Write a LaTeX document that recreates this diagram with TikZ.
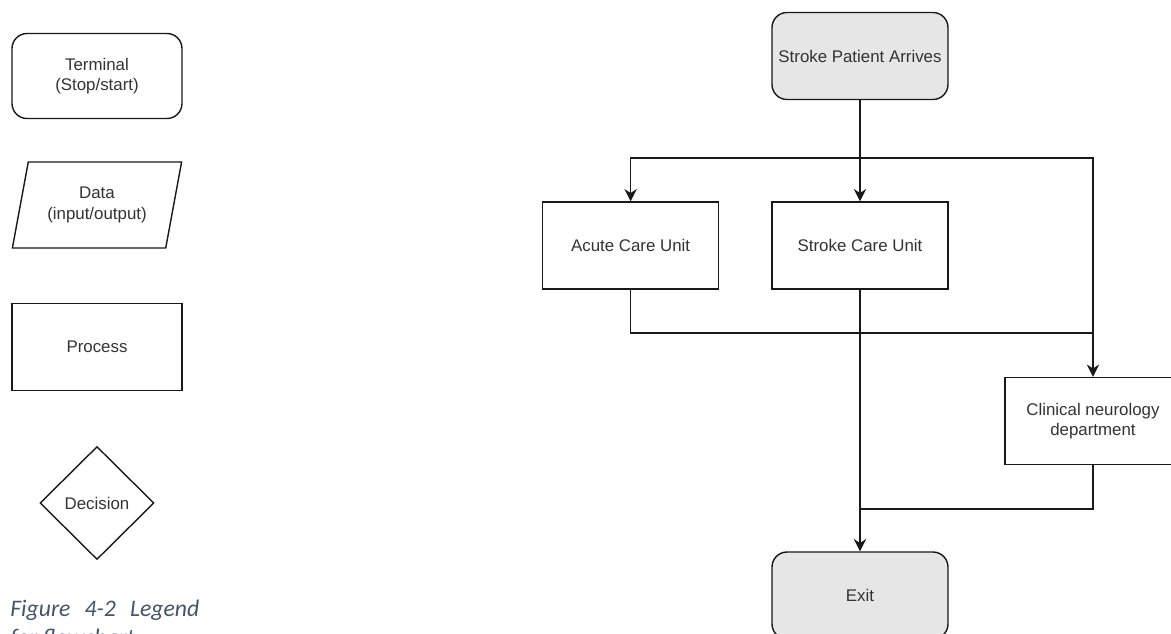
\documentclass[tikz,border=0pt]{standalone}
\usepackage{fontspec}
\setmainfont{Liberation Sans}
\newfontfamily\capfont{Carlito}
\usetikzlibrary{positioning, shapes.geometric, arrows.meta}
\definecolor{termgray}{HTML}{E6E6E6}
\definecolor{capblue}{HTML}{44546A}

\begin{document}
\begin{tikzpicture}[
        x=0.02cm, y=-0.02cm,
        font=\fontsize{9.6}{11.5}\selectfont, text=black!80,
        box/.style={rectangle, draw=black!90, line width=0.8pt,
                    minimum width=3.52cm, minimum height=1.74cm,
                    align=center, inner sep=2pt},
        term/.style={box, rounded corners=0.3cm},
        tbox/.style={term, fill=termgray},
        data/.style={trapezium, trapezium left angle=72, trapezium right angle=108,
                     trapezium stretches=true, draw=black!90, line width=0.8pt,
                     minimum width=3.4cm, minimum height=1.72cm, align=center, inner sep=0pt},
        decision/.style={diamond, draw=black!90, line width=0.8pt,
                         minimum width=2.28cm, minimum height=2.26cm, inner sep=0pt},
        link/.style={draw=black!90, line width=0.8pt},
        arrow/.style={link, -{Stealth[length=7pt, width=7pt]}},
    ]
    \useasboundingbox (0,0) rectangle (1171,633);

    % Legend
    \node[term, minimum width=3.4cm, minimum height=1.7cm] (terminal) at (97,76) {Terminal\\(Stop/start)};
    \node[data] (data) at (97,205) {Data\\(input/output)};
    \node[box, minimum width=3.4cm] (process) at (97,347) {Process};
    \node[decision] (decision) at (97,503) {Decision};
    \node[font=\capfont\itshape\fontsize{13.5}{16}\selectfont, text=capblue,
          anchor=base west, align=left, inner sep=0pt] (caption) at (10,645)
          {\makebox[3.78cm][s]{Figure 4-2 Legend}\\for flowchart};

    % Flowchart
    \node[tbox] (start) at (860,56) {Stroke Patient Arrives};
    \node[box] (stroke) at (860,245.5) {Stroke Care Unit};
    \node[box, left=1.04cm of stroke] (acute) {Acute Care Unit};
    \node[box] (clinical) at (1093,421) {Clinical neurology\\department};
    \node[tbox] (exit) at (860,595.5) {Exit};

    \coordinate (split) at (860,158);
    \coordinate (mergeA) at (1093,333);
    \coordinate (mergeC) at (860,509);

    \draw[arrow] (start) -- (stroke);
    \draw[arrow] (split) -| (acute);
    \draw[arrow] (split) -| (clinical);
    \draw[link] (acute) |- (mergeA);
    \draw[arrow] (stroke) -- (exit);
    \draw[link] (clinical) |- (mergeC);

\end{tikzpicture}
\end{document}
